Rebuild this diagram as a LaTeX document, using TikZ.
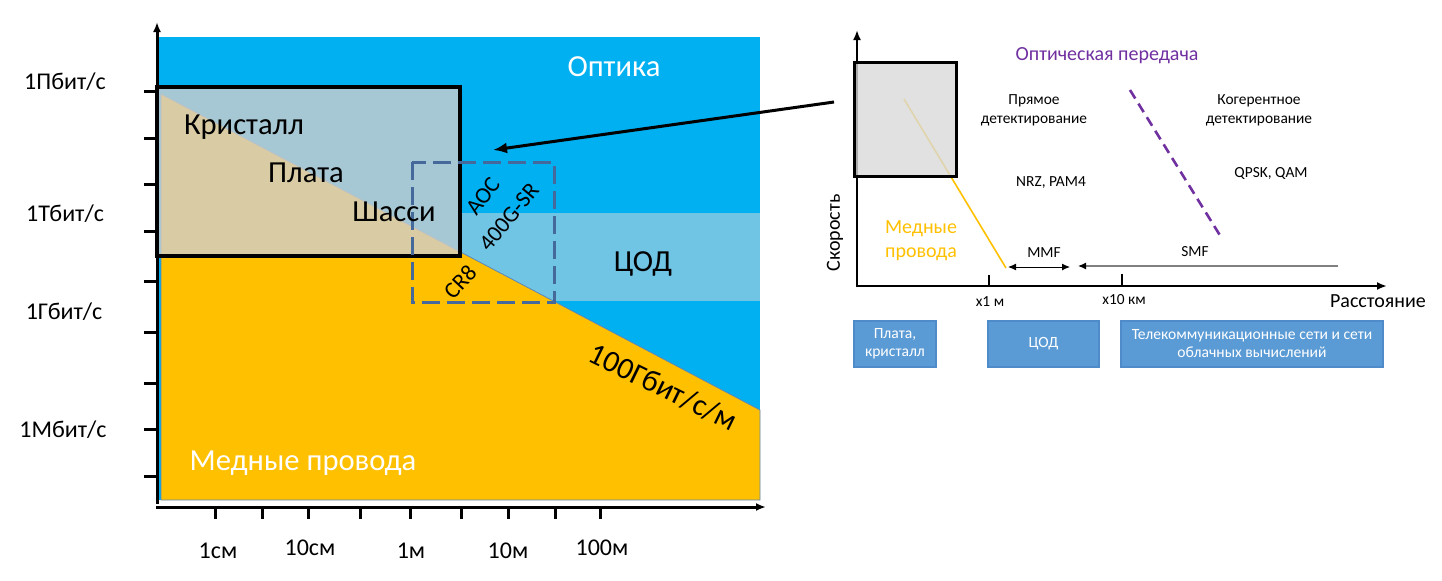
\documentclass[tikz,border=0pt]{standalone}
\usepackage{fontspec}
\setmainfont{Carlito}
\usetikzlibrary{arrows.meta}
\definecolor{optblue}{HTML}{00B0F0}
\definecolor{cuorange}{HTML}{FFC000}
\definecolor{bandblue}{HTML}{70C4E4}
\definecolor{dashblue}{HTML}{44699A}
\definecolor{boxblue}{HTML}{5B9BD5}
\definecolor{boxedge}{HTML}{4F8BC9}
\definecolor{optpurple}{HTML}{7030A0}
\definecolor{glass}{HTML}{D0CFCD}
\definecolor{edgeblue}{HTML}{5B86B8}
\tikzset{
  txt/.style={inner sep=0pt, anchor=center},
  ylab/.style={txt, font=\fontsize{12}{14}\selectfont},
  xlab/.style={txt, font=\fontsize{12}{14}\selectfont},
  bigtxt/.style={txt, font=\fontsize{15.3}{18}\selectfont},
  midtxt/.style={txt, font=\fontsize{11.5}{13}\selectfont},
  smalltxt/.style={txt, align=center, font=\fontsize{7.7}{9.5}\selectfont},
  headtxt/.style={txt, align=center, font=\fontsize{10}{12}\selectfont},
  axisline/.style={line width=1.5pt, -{Latex[length=5pt,width=4pt]}},
  tickline/.style={line width=1.5pt},
  raxis/.style={line width=1pt, -{Latex[length=5pt,width=4pt]}},
  rtick/.style={line width=0.8pt},
  catbox/.style={draw=boxedge, line width=0.6pt, fill=boxblue, text=white, align=center,
    inner sep=0pt, minimum height=23pt, font=\fontsize{7.8}{9}\selectfont},
}
\begin{document}
\begin{tikzpicture}[x=0.5pt,y=-0.5pt]
\useasboundingbox (0,0) rectangle (1442,580);

% ---------------- left chart ----------------
\fill[optblue] (157,37) rectangle (760,500);
\fill[bandblue] (460,213) rectangle (760,301);
\filldraw[fill=cuorange, draw=edgeblue, line width=0.4pt]
  (161,94) -- (760,410) -- (760,500) -- (161,500) -- cycle;
\filldraw[fill=glass, fill opacity=0.8, draw=black, line width=2pt]
  (157,87) rectangle (460,256);
\draw[dashblue, line width=1.5pt, dash pattern=on 9pt off 3.5pt]
  (412,162) rectangle (554,302);

% axes
\draw[axisline] (157,504) -- (157,22);
\draw[axisline] (156,507) -- (766,507);
\foreach \yy in {91,138,184,231,281,332,383,429,476}
  \draw[tickline] (144,\yy) -- (157,\yy);
\foreach \xx in {215,262,308,360,410,461,508,555,600}
  \draw[tickline] (\xx,507) -- (\xx,519);

\node[ylab] (yP) at (65,82) {1Пбит/с};
\node[ylab] (yT) at (65,214) {1Тбит/с};
\node[ylab] (yG) at (64,312) {1Гбит/с};
\node[ylab] (yM) at (63,430) {1Мбит/с};
\node[xlab] (x1) at (218,551) {1см};
\node[xlab] (x2) at (310,548) {10см};
\node[xlab] (x3) at (411,551) {1м};
\node[xlab] (x4) at (508,551) {10м};
\node[xlab] (x5) at (602,548) {100м};

\node[bigtxt, text=white] (optika) at (614,67) {Оптика};
\node[bigtxt, text=white] (copper) at (303,463) {Медные провода};
\node[bigtxt] (kris) at (244,127) {Кристалл};
\node[bigtxt] (plata) at (306,173) {Плата};
\node[bigtxt] (shassi) at (394,212) {Шасси};
\node[bigtxt] (cod) at (643,264) {ЦОД};
\node[midtxt, rotate=53] (aoc) at (483,196) {AOC};
\node[midtxt, rotate=50] (sr) at (509,217) {400G-SR};
\node[midtxt, rotate=47] (cr8) at (460,282) {CR8};
\node[bigtxt, rotate=-26] (rate) at (663,387) {100Гбит/с/м};

% ---------------- right chart ----------------
\draw[cuorange, line width=0.8pt] (904,99) -- (1006,268);
\draw[raxis] (857,287) -- (857,30);
\draw[raxis] (856,286) -- (1387,286);
\node[draw=black, line width=1.5pt, fill={rgb,255:red,217;green,217;blue,217}, fill opacity=0.8,
  minimum width=51pt, minimum height=57pt, inner sep=0pt] (zoombox) at (905,119) {};
\draw[optpurple, line width=1.3pt, dash pattern=on 5pt off 3pt] (1130,90) -- (1221,237);
\draw[rtick] (989,275) -- (989,287);
\draw[rtick] (1122,274) -- (1122,287);

\node[headtxt, text=optpurple] (opttr) at (1107,56) {Оптическая передача};
\node[smalltxt] (direct) at (1034,110) {Прямое\\детектирование};
\node[smalltxt] (coher) at (1259,110) {Когерентное\\детектирование};
\node[smalltxt] (nrz) at (1051,183) {NRZ, PAM4};
\node[smalltxt] (qpsk) at (1271,174) {QPSK, QAM};
\node[headtxt, text=cuorange, font=\fontsize{10}{12}\selectfont] (rcopper) at (921,241) {Медные\\провода};
\node[smalltxt] (mmf) at (1044,253) {MMF};
\node[smalltxt] (smf) at (1195,252) {SMF};
\node[smalltxt] (t1) at (990,302) {x1 м};
\node[smalltxt] (t2) at (1124,300) {x10 км};
\node[headtxt] (dist) at (1378,301) {Расстояние};
\node[headtxt, rotate=90] (speed) at (835,233) {Скорость};

\coordinate (mmfL) at (1008,267);
\coordinate (mmfR) at (1070,267);
\draw[line width=0.5pt, {Latex[length=4pt,width=3.5pt]}-{Latex[length=4pt,width=3.5pt]}] (mmfL) -- (mmfR);
\coordinate (smfR) at (1338,266);
\coordinate (smfL) at (1078,266);
\draw[gray, line width=0.6pt, -{Latex[black,length=4pt,width=3.5pt]}] (smfR) -- (smfL);

\node[catbox, minimum width=41pt] (b1) at (895,344) {Плата,\\кристалл};
\node[catbox, minimum width=55.5pt] (b2) at (1043.5,344) {ЦОД};
\node[catbox, minimum width=131pt] (b3) at (1252,344) {Телекоммуникационные сети и сети\\облачных вычислений};

% zoom arrow
\coordinate (arrS) at (834,102);
\coordinate (arrE) at (493,150);
\draw[line width=1.5pt, -{Latex[length=7pt,width=5.5pt]}] (arrS) -- (arrE);
\end{tikzpicture}
\end{document}
